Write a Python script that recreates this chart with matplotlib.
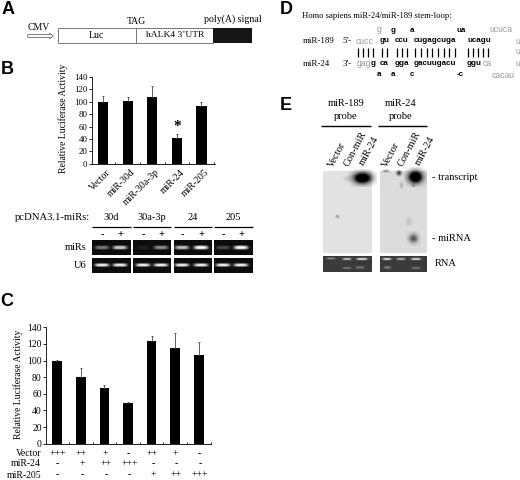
import numpy as np
import matplotlib
matplotlib.use('Agg')
import matplotlib.pyplot as plt
from matplotlib.patches import Rectangle

plt.rcParams['font.family'] = ['Liberation Serif', 'DejaVu Serif']

W, H = 520, 480

# panel B data
b_labels = ['Vector', 'miR-30d', 'miR-30a-3p', 'miR-24', 'miR-205']
b_values = [100, 102, 108, 41, 93]
b_tops = [110, 108, 125, 48, 100]
gel_titles = ['30d', '30a-3p', '24', '205']
gel_mirs = [[0.45, 0.8], [0.08, 0.55], [0.75, 1.0], [0.25, 1.0]]
gel_u6 = [[0.95, 0.95], [0.95, 0.95], [0.95, 0.95], [0.95, 0.95]]

# panel C data
c_values = [100, 80, 67, 49.5, 123, 115, 107]
c_tops = [101, 91, 71, 50.5, 130, 133, 122]
c_vector = ['+++', '++', '+', '-', '++', '+', '-']
c_mir24 = ['-', '+', '++', '+++', '-', '-', '-']
c_mir205 = ['-', '-', '-', '-', '+', '++', '+++']

# panel E blot spots: lane x, y, size x, size y, darkness
blot_left = [(362.5, 178, 9, 5.5, 1.0), (347, 179, 3, 2, 0.08), (337.5, 216.5, 1.5, 1.5, 0.25)]
blot_right = [(415, 177, 7, 6, 1.0), (399, 173, 2.5, 2.5, 0.5), (386, 171, 3, 1, 0.3),
              (401, 185, 1.5, 3, 0.15), (413, 186, 1.5, 1.5, 0.2),
              (413, 239, 4.5, 4.5, 0.4), (409, 222, 3, 4, 0.08)]
rna_left = [(331, 259, 5, 0.8, 0.5), (347, 259, 5, 1, 0.75), (362, 259, 6, 1.2, 0.9),
            (347, 268, 5, 1, 0.3), (360, 268, 5, 1.5, 0.3)]
rna_right = [(387, 259, 5, 1.2, 0.9), (401, 259, 5, 1, 0.65), (416, 259, 5.5, 1.2, 0.85),
             (387, 268, 4, 1.5, 0.35), (416, 268, 5, 1, 0.3)]


def axes_px(x0, y0, x1, y1):
    # y0 is the top, in picture pixels
    return fig.add_axes([x0 / W, 1 - y1 / H, (x1 - x0) / W, (y1 - y0) / H])


def bars(ax, values, tops, xmax, size, lab_x, lab_y):
    x = np.arange(len(values))
    ax.bar(x, values, width=0.41, color='black')
    err = np.array(tops) - np.array(values)
    ax.errorbar(x, values, yerr=[np.zeros(len(x)), err], fmt='none', ecolor='#444444',
                elinewidth=0.6, capsize=1, capthick=0.6)
    ax.set_xlim(-0.47, xmax)
    ax.set_ylim(0, 140)
    ax.set_yticks(range(0, 141, 20))
    ax.set_xticks(x + 0.5)
    ax.set_xticklabels([])
    ax.tick_params(axis='y', labelsize=size, length=2, width=0.6, pad=1)
    ax.tick_params(axis='x', length=1.5, width=0.6, direction='in')
    ax.spines['top'].set_visible(False)
    ax.spines['right'].set_visible(False)
    ax.spines['left'].set_linewidth(0.6)
    ax.spines['bottom'].set_linewidth(0.6)
    ax.set_ylabel('Relative Luciferase Activity', fontsize=6.9)
    ax.yaxis.set_label_coords(lab_x, lab_y)
    ax.patch.set_alpha(0)


def blob(cx, cy, sx, sy, level, white, power=4):
    # soft spot, white on the gels and black on the blots
    n = 31
    yy, xx = np.mgrid[-2:2:n * 1j, -2:2:n * 1j]
    r = np.abs(xx) ** power + np.abs(yy) ** power
    a = np.clip(np.exp(-r / 1.5) * level * (1.6 if power == 2 else 1), 0, 1)
    col = 1.0 if white else 0.0
    rgba = np.dstack([np.full_like(a, col), np.full_like(a, col), np.full_like(a, col), a])
    bg.imshow(rgba, extent=[cx - sx * 1.6, cx + sx * 1.6, cy + sy * 1.6, cy - sy * 1.6],
              aspect='auto', zorder=3, interpolation='bilinear')


fig = plt.figure(figsize=(W / 100, H / 100), dpi=100)

bg = fig.add_axes([0, 0, 1, 1])
bg.axis('off')


def txt(x, y, s, size=7.5, **kw):
    kw.setdefault('ha', 'center')
    kw.setdefault('va', 'center')
    bg.text(x, y, s, fontsize=size, **kw)


def line(x0, y0, x1, y1, lw=0.8, color='black'):
    bg.plot([x0, x1], [y0, y1], color=color, lw=lw, solid_capstyle='butt')


# panel letters
for s, x, y in [('A', 8, 10), ('B', 7, 69), ('C', 7, 301), ('D', 286, 9), ('E', 286, 105)]:
    txt(x, y, s, size=13, family='Liberation Sans', weight='bold')

# A: construct
bg.add_patch(Rectangle((58, 27.5), 77.5, 15, fc='white', ec='#777777', lw=0.7))
bg.add_patch(Rectangle((135.5, 27.5), 77.5, 15, fc='white', ec='#777777', lw=0.7))
bg.add_patch(Rectangle((213, 27.5), 39, 15, fc='#161616', ec='none'))
bg.annotate('', xy=(56, 36), xytext=(25, 36),
            arrowprops=dict(arrowstyle='simple,head_width=0.4,head_length=0.25,tail_width=0.2',
                            fc='white', ec='#666666', lw=0.6))
txt(38.5, 28, 'CMV', size=7)
txt(96, 35, 'Luc', size=7)
txt(175, 35, 'hALK4 3\u2019UTR', size=6.8)
txt(136, 21, 'TAG', size=7)
txt(233, 19.5, 'poly(A) signal', size=7.1)

# B: bar chart
ax_b = axes_px(91.5, 77, 215, 163.7)
bars(ax_b, b_values, b_tops, 4.55, 6.4, -0.19, 0.527)
for i, s in enumerate(b_labels):
    ax_b.annotate(s, (i, 0), xytext=(2, -3), textcoords='offset points', rotation=45,
                  ha='right', va='top', rotation_mode='anchor', fontsize=7)
ax_b.text(3, 50, '*', ha='center', va='bottom', fontsize=11, weight='bold')

# B: gels
gel_x = [(91.7, 131), (132.7, 171.3), (174, 212), (214.3, 253)]
gel_band_x = [(102, 120), (143, 161), (182, 201), (223, 241)]
txt(52, 217.5, 'pcDNA3.1-miRs:', size=7.7)
txt(86.7, 247.5, 'miRs', ha='right')
txt(86.7, 265.5, 'U6', ha='right')
for i, (x0, x1) in enumerate(gel_x):
    txt((x0 + x1) / 2, 217, gel_titles[i])
    line(x0, 226.5, x1, 226.5, lw=0.9)
    for j, sign in enumerate(['-', '+']):
        txt(gel_band_x[i][j], 234.5, sign, weight='bold')
        blob(gel_band_x[i][j], 248, 8, 2, gel_mirs[i][j], True)
        blob(gel_band_x[i][j], 265.5, 8, 1.6, gel_u6[i][j], True)
    bg.add_patch(Rectangle((x0, 240), x1 - x0, 15.3, fc='#0c0c0c', ec='none', zorder=1))
    bg.add_patch(Rectangle((x0, 258.3), x1 - x0, 15, fc='#0c0c0c', ec='none', zorder=1))

# C: bar chart
ax_c = axes_px(46, 327.3, 210.7, 443.7)
bars(ax_c, c_values, c_tops, 6.5, 6.9, -0.141, 0.51)
for i in range(len(c_values)):
    px = 57.7 + i * 23.55
    txt(px, 453.5, c_vector[i], size=7, weight='bold' if c_vector[i] == '-' else 'normal')
    txt(px + (1 if i else 0), 464, c_mir24[i], size=7, weight='bold' if c_mir24[i] == '-' else 'normal')
    txt(px + (1 if i else 0), 475, c_mir205[i], size=7, weight='bold' if c_mir205[i] == '-' else 'normal')
txt(41, 453.5, 'Vector', size=7, ha='right')
txt(41, 464, 'miR-24', size=7, ha='right')
txt(41.5, 475, 'miR-205', size=7, ha='right')

# D: stem-loop
txt(302, 16.5, 'Homo sapiens miR-24/miR-189 stem-loop:', size=6.2, ha='left')
txt(302.5, 41, 'miR-189', size=6.5, ha='left')
txt(302.5, 63.5, 'miR-24', size=6.5, ha='left')
txt(342.7, 41, "5'-", size=6.5, ha='left')
txt(342.7, 63.5, "3'-", size=6.5, ha='left')


def seq(x, y, s, bold=True):
    txt(x, y, s, size=5.8 if bold else 6.2, ha='left', family='Liberation Sans',
        weight='bold' if bold else 'normal', color='black' if bold else '#999999')


for x, y, s, b in [(376.7, 30, 'g', False), (391, 30, 'g', True), (410, 30, 'a', True),
                   (456.7, 30, 'ua', True), (489, 30, 'ucuca', False),
                   (356, 41, 'cucc', False), (380, 41, 'gu', True), (395, 41, 'ccu', True),
                   (414, 41, 'cugagcuga', True), (467, 41, 'ucagu', True), (515, 41, 'u', False),
                   (356.7, 63.5, 'gag', False), (371, 63.5, 'g', True), (380, 63.5, 'ca', True),
                   (395, 63.5, 'gga', True), (414, 63.5, 'gacuugacu', True), (467, 63.5, 'ggu', True),
                   (483, 63.5, 'ca', False), (515, 63.5, 'u', False), (515, 52, 'u', False),
                   (376.7, 75, 'a', True), (390.7, 75, 'a', True), (410, 75, 'c', True),
                   (456.7, 75, '-c', True), (491.7, 75, 'cacau', False)]:
    seq(x, y, s, b)
for x in [358.3, 363.3, 368.3, 373.3, 382.3, 387.3, 396.7, 401.7, 406.7, 415.3, 421, 426.7, 432.3,
          438, 443.7, 449.3, 455, 468.3, 473.3, 478.3, 483.3, 488.3]:
    line(x, 47.7, x, 56.7, lw=0.9)

# E: blots
for x, y, s in [(346, 104, 'miR-189'), (346, 116.7, 'probe'), (401, 104, 'miR-24'), (401, 116.7, 'probe')]:
    txt(x, y, s)
line(320.7, 126, 371, 126, lw=1)
line(378, 126, 427, 126, lw=1)
for x, y, s in [(331, 167, 'Vector'), (346, 166, 'Con-miR'), (362, 165, 'miR-24'),
                (385, 167, 'Vector'), (400, 166, 'Con-miR'), (418, 165, 'miR-24')]:
    bg.text(x, y, s, fontsize=7.5, rotation=62, ha='left', va='center', rotation_mode='anchor')
bg.add_patch(Rectangle((322.5, 170.7), 49, 82.5, fc='#e2e2e4', ec='none', zorder=1))
bg.add_patch(Rectangle((380, 170.7), 47, 82.5, fc='#dcdcde', ec='none', zorder=1))
bg.add_patch(Rectangle((322.5, 256), 49, 15.5, fc='#3a3a3a', ec='none', zorder=1))
bg.add_patch(Rectangle((380, 256), 47, 15.5, fc='#3a3a3a', ec='none', zorder=1))
for spot in blot_left + blot_right:
    blob(*spot, False, 2)
for spot in rna_left + rna_right:
    blob(*spot, True)
txt(431.5, 177, '- transcript', ha='left')
txt(431.5, 238.5, '- miRNA', ha='left')
txt(435, 263, 'RNA', ha='left')

bg.set_xlim(0, W)
bg.set_ylim(H, 0)

fig.savefig('out.png', dpi=100)
